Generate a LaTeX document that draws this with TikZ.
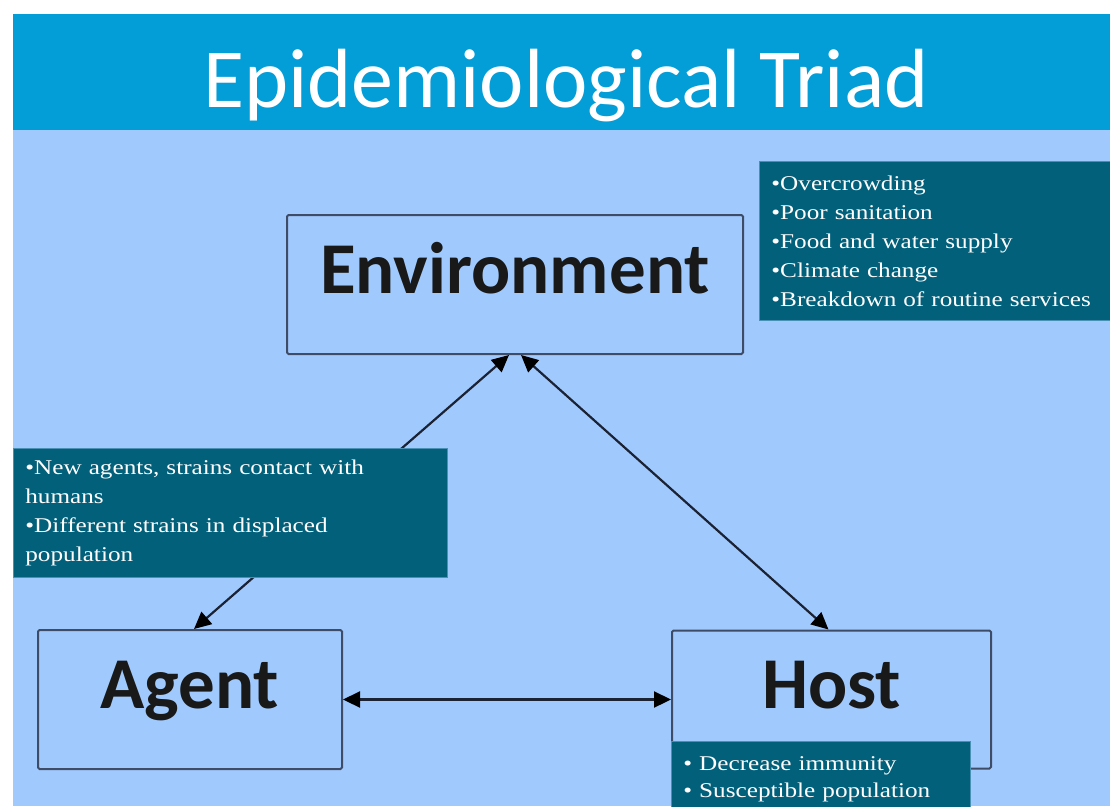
\documentclass[tikz,border=0pt]{standalone}
\usepackage{fontspec}
\setmainfont{Liberation Serif}
\newfontfamily\titlefont{Carlito}
\newfontfamily\notefont[FakeStretch=1.2]{Liberation Serif}
\usetikzlibrary{arrows.meta, positioning}
\definecolor{barblue}{HTML}{039DD8}
\definecolor{slideblue}{HTML}{A0CAFD}
\definecolor{noteteal}{HTML}{02607A}
\definecolor{edgeslate}{HTML}{3E4C68}
\definecolor{arrowink}{HTML}{1B2233}

\begin{document}
\begin{tikzpicture}[x=1pt, y=-1pt,
    triad/.style={draw=edgeslate, line width=2pt, rounded corners=1.5pt,
                  font=\titlefont\bfseries\fontsize{73}{73}\selectfont, text=black!90,
                  text height=47pt, text depth=29pt, inner sep=0pt},
    note/.style={fill=noteteal, draw=noteteal!55!slideblue, line width=0.8pt, anchor=north west,
                 align=left, text=white, inner xsep=12pt, inner ysep=0pt,
                 font=\notefont\fontsize{21}{29}\selectfont},
    link/.style={{Triangle[length=17pt,width=16pt,color=black]}-{Triangle[length=17pt,width=16pt,color=black]},
                 line width=2.2pt, draw=arrowink}]
  \useasboundingbox (0,0) rectangle (1110,806);
  % slide background and title bar
  \fill[slideblue] (13,130) rectangle (1110,806);
  \fill[barblue] (13,14) rectangle (1110,130);
  \node[font=\titlefont\fontsize{84}{84}\selectfont, text=white, anchor=base] (title) at (566,107) {Epidemiological Triad};

  % the three corners of the triad
  \node[triad, anchor=north west, minimum width=456pt, minimum height=139pt] (env) at (286,214) {Environment};
  \node[triad, anchor=north west, minimum width=304pt, minimum height=139pt] (agent) at (37,629) {Agent};
  \node[triad, right=328pt of agent, minimum width=319pt, minimum height=138pt] (host) {Host};

  \draw[link] ([xshift=4pt]agent.north) -- ([xshift=-6pt]env.south);
  \draw[link] ([xshift=6pt]env.south) -- ([xshift=-3pt]host.north);
  \draw[link] (agent.east) -- (host.west);

  % factor notes
  \node[note, text width=327pt, minimum height=159pt] (envnotes) at (759,161)
    {•Overcrowding\\•Poor sanitation\\•Food and water supply\\•Climate change\\•Breakdown of routine services};
  \node[note, text width=410pt, minimum height=129pt] (agentnotes) at (13,448)
    {•New agents, strains contact with\\humans\\•Different strains in displaced\\population};
  \node[note, text width=275pt, minimum height=75pt, font=\notefont\fontsize{21}{27}\selectfont] (hostnotes) at (671,741)
    {• Decrease immunity\\• Susceptible population};
\end{tikzpicture}
\end{document}
